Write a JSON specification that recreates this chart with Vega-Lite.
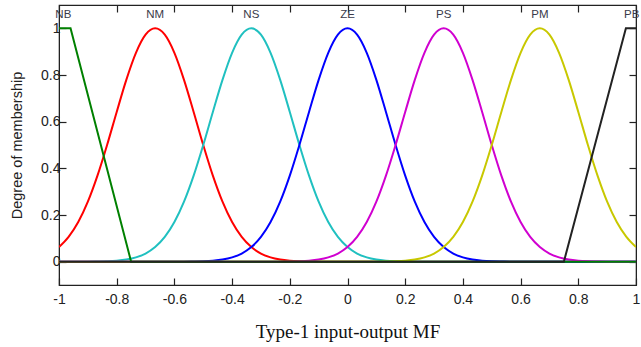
{
  "$schema": "https://vega.github.io/schema/vega-lite/v6.json",
  "width": 577,
  "height": 280,
  "autosize": {"type": "none"},
  "padding": {"left": 59, "top": 5, "right": 5, "bottom": 62},
  "background": "white",
  "config": {
    "view": {"stroke": "#222222", "strokeWidth": 1.2},
    "axis": {"grid": false, "domainColor": "#222222", "tickColor": "#222222", "tickSize": -7, "tickWidth": 1.2, "labelFont": "Liberation Sans", "labelFontSize": 14, "labelColor": "#222222"}
  },
  "datasets": {
    "gauss": [
      {"x": -1, "y": 0.0625, "mf": "NM"}, {"x": -0.9667, "y": 0.1058, "mf": "NM"}, {"x": -0.9333, "y": 0.1696, "mf": "NM"}, {"x": -0.9, "y": 0.257, "mf": "NM"}, {"x": -0.8667, "y": 0.3686, "mf": "NM"}, {"x": -0.8333, "y": 0.5, "mf": "NM"}, {"x": -0.8, "y": 0.6417, "mf": "NM"}, {"x": -0.7667, "y": 0.7792, "mf": "NM"}, {"x": -0.7333, "y": 0.895, "mf": "NM"}, {"x": -0.7, "y": 0.9727, "mf": "NM"}, {"x": -0.6667, "y": 1, "mf": "NM"}, {"x": -0.6333, "y": 0.9727, "mf": "NM"}, {"x": -0.6, "y": 0.895, "mf": "NM"}, {"x": -0.5667, "y": 0.7792, "mf": "NM"}, {"x": -0.5333, "y": 0.6417, "mf": "NM"}, {"x": -0.5, "y": 0.5, "mf": "NM"}, {"x": -0.4667, "y": 0.3686, "mf": "NM"}, {"x": -0.4333, "y": 0.257, "mf": "NM"}, {"x": -0.4, "y": 0.1696, "mf": "NM"}, {"x": -0.3667, "y": 0.1058, "mf": "NM"}, {"x": -0.3333, "y": 0.0625, "mf": "NM"}, {"x": -0.3, "y": 0.0349, "mf": "NM"}, {"x": -0.2667, "y": 0.0185, "mf": "NM"}, {"x": -0.2333, "y": 0.0092, "mf": "NM"}, {"x": -0.2, "y": 0.0044, "mf": "NM"}, {"x": -0.1667, "y": 0.002, "mf": "NM"}, {"x": -0.1333, "y": 0.0008, "mf": "NM"}, {"x": -0.1, "y": 0, "mf": "NM"}, {"x": 1, "y": 0, "mf": "NM"},
      {"x": -1, "y": 0, "mf": "NS"}, {"x": -0.9, "y": 0, "mf": "NS"}, {"x": -0.8667, "y": 0.0008, "mf": "NS"}, {"x": -0.8333, "y": 0.002, "mf": "NS"}, {"x": -0.8, "y": 0.0044, "mf": "NS"}, {"x": -0.7667, "y": 0.0092, "mf": "NS"}, {"x": -0.7333, "y": 0.0185, "mf": "NS"}, {"x": -0.7, "y": 0.0349, "mf": "NS"}, {"x": -0.6667, "y": 0.0625, "mf": "NS"}, {"x": -0.6333, "y": 0.1058, "mf": "NS"}, {"x": -0.6, "y": 0.1696, "mf": "NS"}, {"x": -0.5667, "y": 0.257, "mf": "NS"}, {"x": -0.5333, "y": 0.3686, "mf": "NS"}, {"x": -0.5, "y": 0.5, "mf": "NS"}, {"x": -0.4667, "y": 0.6417, "mf": "NS"}, {"x": -0.4333, "y": 0.7792, "mf": "NS"}, {"x": -0.4, "y": 0.895, "mf": "NS"}, {"x": -0.3667, "y": 0.9727, "mf": "NS"}, {"x": -0.3333, "y": 1, "mf": "NS"}, {"x": -0.3, "y": 0.9727, "mf": "NS"}, {"x": -0.2667, "y": 0.895, "mf": "NS"}, {"x": -0.2333, "y": 0.7792, "mf": "NS"}, {"x": -0.2, "y": 0.6417, "mf": "NS"}, {"x": -0.1667, "y": 0.5, "mf": "NS"}, {"x": -0.1333, "y": 0.3686, "mf": "NS"}, {"x": -0.1, "y": 0.257, "mf": "NS"}, {"x": -0.0667, "y": 0.1696, "mf": "NS"}, {"x": -0.0333, "y": 0.1058, "mf": "NS"}, {"x": 0, "y": 0.0625, "mf": "NS"}, {"x": 0.0333, "y": 0.0349, "mf": "NS"}, {"x": 0.0667, "y": 0.0185, "mf": "NS"}, {"x": 0.1, "y": 0.0092, "mf": "NS"}, {"x": 0.1333, "y": 0.0044, "mf": "NS"}, {"x": 0.1667, "y": 0.002, "mf": "NS"}, {"x": 0.2, "y": 0.0008, "mf": "NS"}, {"x": 0.2333, "y": 0, "mf": "NS"}, {"x": 1, "y": 0, "mf": "NS"},
      {"x": -1, "y": 0, "mf": "ZE"}, {"x": -0.5667, "y": 0, "mf": "ZE"}, {"x": -0.5333, "y": 0.0008, "mf": "ZE"}, {"x": -0.5, "y": 0.002, "mf": "ZE"}, {"x": -0.4667, "y": 0.0044, "mf": "ZE"}, {"x": -0.4333, "y": 0.0092, "mf": "ZE"}, {"x": -0.4, "y": 0.0185, "mf": "ZE"}, {"x": -0.3667, "y": 0.0349, "mf": "ZE"}, {"x": -0.3333, "y": 0.0625, "mf": "ZE"}, {"x": -0.3, "y": 0.1058, "mf": "ZE"}, {"x": -0.2667, "y": 0.1696, "mf": "ZE"}, {"x": -0.2333, "y": 0.257, "mf": "ZE"}, {"x": -0.2, "y": 0.3686, "mf": "ZE"}, {"x": -0.1667, "y": 0.5, "mf": "ZE"}, {"x": -0.1333, "y": 0.6417, "mf": "ZE"}, {"x": -0.1, "y": 0.7792, "mf": "ZE"}, {"x": -0.0667, "y": 0.895, "mf": "ZE"}, {"x": -0.0333, "y": 0.9727, "mf": "ZE"}, {"x": 0, "y": 1, "mf": "ZE"}, {"x": 0.0333, "y": 0.9727, "mf": "ZE"}, {"x": 0.0667, "y": 0.895, "mf": "ZE"}, {"x": 0.1, "y": 0.7792, "mf": "ZE"}, {"x": 0.1333, "y": 0.6417, "mf": "ZE"}, {"x": 0.1667, "y": 0.5, "mf": "ZE"}, {"x": 0.2, "y": 0.3686, "mf": "ZE"}, {"x": 0.2333, "y": 0.257, "mf": "ZE"}, {"x": 0.2667, "y": 0.1696, "mf": "ZE"}, {"x": 0.3, "y": 0.1058, "mf": "ZE"}, {"x": 0.3333, "y": 0.0625, "mf": "ZE"}, {"x": 0.3667, "y": 0.0349, "mf": "ZE"}, {"x": 0.4, "y": 0.0185, "mf": "ZE"}, {"x": 0.4333, "y": 0.0092, "mf": "ZE"}, {"x": 0.4667, "y": 0.0044, "mf": "ZE"}, {"x": 0.5, "y": 0.002, "mf": "ZE"}, {"x": 0.5333, "y": 0.0008, "mf": "ZE"}, {"x": 0.5667, "y": 0, "mf": "ZE"}, {"x": 1, "y": 0, "mf": "ZE"},
      {"x": -1, "y": 0, "mf": "PS"}, {"x": -0.2333, "y": 0, "mf": "PS"}, {"x": -0.2, "y": 0.0008, "mf": "PS"}, {"x": -0.1667, "y": 0.002, "mf": "PS"}, {"x": -0.1333, "y": 0.0044, "mf": "PS"}, {"x": -0.1, "y": 0.0092, "mf": "PS"}, {"x": -0.0667, "y": 0.0185, "mf": "PS"}, {"x": -0.0333, "y": 0.0349, "mf": "PS"}, {"x": 0, "y": 0.0625, "mf": "PS"}, {"x": 0.0333, "y": 0.1058, "mf": "PS"}, {"x": 0.0667, "y": 0.1696, "mf": "PS"}, {"x": 0.1, "y": 0.257, "mf": "PS"}, {"x": 0.1333, "y": 0.3686, "mf": "PS"}, {"x": 0.1667, "y": 0.5, "mf": "PS"}, {"x": 0.2, "y": 0.6417, "mf": "PS"}, {"x": 0.2333, "y": 0.7792, "mf": "PS"}, {"x": 0.2667, "y": 0.895, "mf": "PS"}, {"x": 0.3, "y": 0.9727, "mf": "PS"}, {"x": 0.3333, "y": 1, "mf": "PS"}, {"x": 0.3667, "y": 0.9727, "mf": "PS"}, {"x": 0.4, "y": 0.895, "mf": "PS"}, {"x": 0.4333, "y": 0.7792, "mf": "PS"}, {"x": 0.4667, "y": 0.6417, "mf": "PS"}, {"x": 0.5, "y": 0.5, "mf": "PS"}, {"x": 0.5333, "y": 0.3686, "mf": "PS"}, {"x": 0.5667, "y": 0.257, "mf": "PS"}, {"x": 0.6, "y": 0.1696, "mf": "PS"}, {"x": 0.6333, "y": 0.1058, "mf": "PS"}, {"x": 0.6667, "y": 0.0625, "mf": "PS"}, {"x": 0.7, "y": 0.0349, "mf": "PS"}, {"x": 0.7333, "y": 0.0185, "mf": "PS"}, {"x": 0.7667, "y": 0.0092, "mf": "PS"}, {"x": 0.8, "y": 0.0044, "mf": "PS"}, {"x": 0.8333, "y": 0.002, "mf": "PS"}, {"x": 0.8667, "y": 0.0008, "mf": "PS"}, {"x": 0.9, "y": 0, "mf": "PS"}, {"x": 1, "y": 0, "mf": "PS"},
      {"x": -1, "y": 0, "mf": "PM"}, {"x": 0.1, "y": 0, "mf": "PM"}, {"x": 0.1333, "y": 0.0008, "mf": "PM"}, {"x": 0.1667, "y": 0.002, "mf": "PM"}, {"x": 0.2, "y": 0.0044, "mf": "PM"}, {"x": 0.2333, "y": 0.0092, "mf": "PM"}, {"x": 0.2667, "y": 0.0185, "mf": "PM"}, {"x": 0.3, "y": 0.0349, "mf": "PM"}, {"x": 0.3333, "y": 0.0625, "mf": "PM"}, {"x": 0.3667, "y": 0.1058, "mf": "PM"}, {"x": 0.4, "y": 0.1696, "mf": "PM"}, {"x": 0.4333, "y": 0.257, "mf": "PM"}, {"x": 0.4667, "y": 0.3686, "mf": "PM"}, {"x": 0.5, "y": 0.5, "mf": "PM"}, {"x": 0.5333, "y": 0.6417, "mf": "PM"}, {"x": 0.5667, "y": 0.7792, "mf": "PM"}, {"x": 0.6, "y": 0.895, "mf": "PM"}, {"x": 0.6333, "y": 0.9727, "mf": "PM"}, {"x": 0.6667, "y": 1, "mf": "PM"}, {"x": 0.7, "y": 0.9727, "mf": "PM"}, {"x": 0.7333, "y": 0.895, "mf": "PM"}, {"x": 0.7667, "y": 0.7792, "mf": "PM"}, {"x": 0.8, "y": 0.6417, "mf": "PM"}, {"x": 0.8333, "y": 0.5, "mf": "PM"}, {"x": 0.8667, "y": 0.3686, "mf": "PM"}, {"x": 0.9, "y": 0.257, "mf": "PM"}, {"x": 0.9333, "y": 0.1696, "mf": "PM"}, {"x": 0.9667, "y": 0.1058, "mf": "PM"}, {"x": 1, "y": 0.0625, "mf": "PM"}
    ],
    "nb": [
      {"x": -1, "y": 1, "mf": "NB"}, {"x": -0.96, "y": 1, "mf": "NB"}, {"x": -0.75, "y": 0, "mf": "NB"}, {"x": 1, "y": 0, "mf": "NB"}
    ],
    "pb": [
      {"x": -1, "y": 0, "mf": "PB"}, {"x": 0.75, "y": 0, "mf": "PB"}, {"x": 0.965, "y": 1, "mf": "PB"}, {"x": 1, "y": 1, "mf": "PB"}
    ],
    "labels": [
      {"x": -0.985, "y": 1.056, "name": "NB"}, {"x": -0.6667, "y": 1.056, "name": "NM"}, {"x": -0.3333, "y": 1.056, "name": "NS"}, {"x": 0, "y": 1.056, "name": "ZE"}, {"x": 0.3333, "y": 1.056, "name": "PS"}, {"x": 0.6667, "y": 1.056, "name": "PM"}, {"x": 0.985, "y": 1.056, "name": "PB"}
    ]
  },
  "resolve": {"axis": {"x": "independent", "y": "independent"}},
  "layer": [
    {
      "data": {"name": "gauss"},
      "mark": {"type": "line", "interpolate": "monotone", "strokeWidth": 2, "clip": true},
      "encoding": {
        "x": {"field": "x", "type": "quantitative", "scale": {"domain": [-1, 1], "nice": false, "zero": false},
          "axis": {"orient": "bottom", "values": [-1, -0.8, -0.6, -0.4, -0.2, 0, 0.2, 0.4, 0.6, 0.8, 1], "labelExpr": "'' + datum.value", "labelPadding": 14, "title": "Type-1 input-output MF", "titleFont": "Liberation Serif", "titleFontSize": 19, "titleFontWeight": "normal", "titleColor": "#111111", "titlePadding": 16, "labelFlush": false}},
        "y": {"field": "y", "type": "quantitative", "scale": {"domain": [-0.1, 1.1], "nice": false, "zero": false},
          "axis": {"orient": "left", "values": [0, 0.2, 0.4, 0.6, 0.8, 1], "labelExpr": "'' + datum.value", "labelPadding": 6, "title": "Degree of membership", "titleFont": "Liberation Sans", "titleFontSize": 14.5, "titleFontWeight": "normal", "titleColor": "#222222", "titlePadding": 16}},
        "color": {"field": "mf", "type": "nominal", "scale": {"domain": ["NM", "NS", "ZE", "PS", "PM"], "range": ["#ff0000", "#20c0c0", "#0000ff", "#d000d0", "#c8c800"]}, "legend": null}
      }
    },
    {
      "data": {"name": "nb"},
      "mark": {"type": "line", "strokeWidth": 2, "color": "#008000", "clip": true},
      "encoding": {
        "x": {"field": "x", "type": "quantitative", "scale": {"domain": [-1, 1], "nice": false, "zero": false}, "axis": null},
        "y": {"field": "y", "type": "quantitative", "scale": {"domain": [-0.1, 1.1], "nice": false, "zero": false}, "axis": null}
      }
    },
    {
      "data": {"name": "pb"},
      "mark": {"type": "line", "strokeWidth": 2, "color": "#222222", "clip": true},
      "encoding": {
        "x": {"field": "x", "type": "quantitative", "scale": {"domain": [-1, 1], "nice": false, "zero": false},
          "axis": {"orient": "top", "values": [-1, -0.8, -0.6, -0.4, -0.2, 0, 0.2, 0.4, 0.6, 0.8, 1], "labels": false, "title": null}},
        "y": {"field": "y", "type": "quantitative", "scale": {"domain": [-0.1, 1.1], "nice": false, "zero": false},
          "axis": {"orient": "right", "values": [0, 0.2, 0.4, 0.6, 0.8, 1], "labels": false, "title": null}}
      }
    },
    {
      "data": {"name": "labels"},
      "mark": {"type": "text", "font": "Liberation Sans", "fontSize": 11.5, "color": "#3a3a4a", "baseline": "middle", "align": "center"},
      "encoding": {
        "x": {"field": "x", "type": "quantitative", "scale": {"domain": [-1, 1], "nice": false, "zero": false}, "axis": null},
        "y": {"field": "y", "type": "quantitative", "scale": {"domain": [-0.1, 1.1], "nice": false, "zero": false}, "axis": null},
        "text": {"field": "name", "type": "nominal"}
      }
    }
  ]
}
